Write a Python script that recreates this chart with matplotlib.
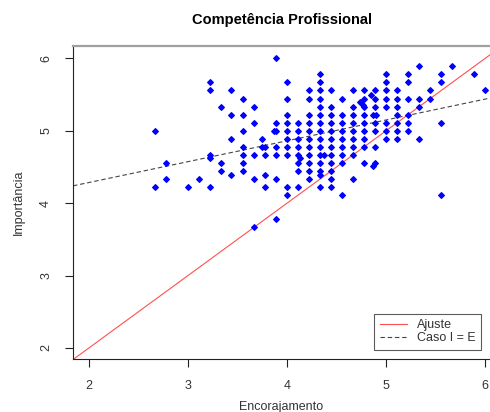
import numpy as np
import matplotlib
matplotlib.use("Agg")
import matplotlib.pyplot as plt

plt.rcParams['font.family'] = ['Liberation Sans', 'DejaVu Sans']

# points, grouped by row (importancia) -> encorajamento values
rows = {
    6.00: [3.89],
    5.89: [5.33, 5.67],
    5.78: [4.33, 5.00, 5.22, 5.56, 5.89],
    5.67: [3.22, 4.00, 4.33, 5.00, 5.22, 5.56],
    5.56: [3.22, 3.44, 4.22, 4.33, 4.44, 4.67, 4.78, 4.89, 5.00, 5.11, 5.44, 6.00],
    5.50: [4.85],
    5.44: [3.56, 4.00, 4.22, 4.33, 4.56, 4.78, 4.89, 5.00, 5.11, 5.22, 5.33, 5.44],
    5.40: [4.74],
    5.36: [4.77],
    5.33: [3.33, 3.67, 4.33, 4.44, 4.67, 4.78, 4.89, 5.00, 5.11, 5.33],
    5.22: [3.44, 3.56, 4.00, 4.22, 4.33, 4.44, 4.56, 4.67, 4.78, 4.87, 4.90, 5.11, 5.22],
    5.11: [3.67, 3.89, 4.00, 4.11, 4.22, 4.33, 4.44, 4.56, 4.67, 4.78, 4.89, 5.00,
           5.11, 5.22, 5.56],
    5.00: [2.67, 3.56, 3.87, 3.89, 4.00, 4.11, 4.22, 4.33, 4.44, 4.56, 4.67, 4.78,
           4.89, 5.00, 5.11, 5.22],
    4.89: [3.44, 3.75, 4.00, 4.11, 4.22, 4.33, 4.44, 4.56, 4.67, 4.78, 5.00, 5.11, 5.33],
    4.78: [3.56, 3.75, 3.78, 3.89, 4.00, 4.11, 4.22, 4.33, 4.44, 4.56, 4.67, 4.78, 4.89],
    4.67: [3.22, 3.56, 3.67, 3.78, 3.89, 4.00, 4.11, 4.22, 4.33, 4.37, 4.44, 4.56, 4.67],
    4.63: [3.22, 4.13],
    4.56: [2.78, 3.33, 3.56, 4.11, 4.22, 4.33, 4.44, 4.56, 4.78, 4.89],
    4.51: [4.87],
    4.44: [3.33, 3.56, 4.11, 4.22, 4.33, 4.44],
    4.39: [3.44, 3.78, 4.33],
    4.33: [2.78, 3.11, 3.67, 3.89, 4.22, 4.44, 4.67],
    4.22: [2.67, 3.00, 3.22, 3.78, 4.00, 4.11, 4.33, 4.44],
    4.11: [4.00, 4.56, 5.56],
    3.78: [3.89],
    3.67: [3.67],
}
encorajamento = []
importancia = []
for yv, xs in rows.items():
    for xv in xs:
        encorajamento.append(xv)
        importancia.append(yv)

# lines
ajuste_coef = [0.0, 1.0]        # intercept, slope
caso_coef = [3.71, 0.288]

x_ticks = [2, 3, 4, 5, 6]
y_ticks = [2, 3, 4, 5, 6]

fig = plt.figure(figsize=(4.9, 4.12), dpi=100)
ax = fig.add_axes([0.149, 0.129, 0.851, 0.759])

ax.scatter(encorajamento, importancia, marker='D', s=8, color='blue', zorder=3)

xl = np.array([1.84, 6.05])
ax.plot(xl, ajuste_coef[0] + ajuste_coef[1] * xl, color='#ff5050', lw=0.8, label='Ajuste')
ax.plot(xl, caso_coef[0] + caso_coef[1] * xl, color='#444444', lw=0.8,
        linestyle=(0, (4, 2.5)), label='Caso I = E')

ax.set_xlim(1.84, 6.05)
ax.set_ylim(1.85, 6.17)
ax.set_xticks(x_ticks)
ax.set_yticks(y_ticks)
ax.tick_params(direction='out', length=6, width=0.8, colors='#222222',
               labelcolor='#333333', labelsize=9)
ax.tick_params(axis='x', pad=9)
ax.tick_params(axis='y', pad=9)
for lab in ax.get_yticklabels():
    lab.set_rotation(90)
    lab.set_va('center')

ax.spines['right'].set_visible(False)
ax.spines['top'].set_color('#a0a0a0')
ax.spines['top'].set_linewidth(1.6)
ax.spines['left'].set_color('#222222')
ax.spines['bottom'].set_color('#222222')

ax.set_xlabel('Encorajamento', fontsize=9, color='#333333', labelpad=7)
ax.set_ylabel('Importância', fontsize=9, color='#333333', labelpad=11)
ax.set_title('Competência Profissional', fontsize=10.5, fontweight='bold', pad=16)

leg = ax.legend(loc='lower right', fontsize=9, frameon=True, fancybox=False,
                edgecolor='#333333', borderaxespad=0.7, handlelength=2.2,
                labelspacing=0.1, borderpad=0.45, handletextpad=0.8)
leg.get_frame().set_linewidth(0.8)
for t in leg.get_texts():
    t.set_color('#333333')

fig.savefig('out.png', dpi=100, facecolor='white')
